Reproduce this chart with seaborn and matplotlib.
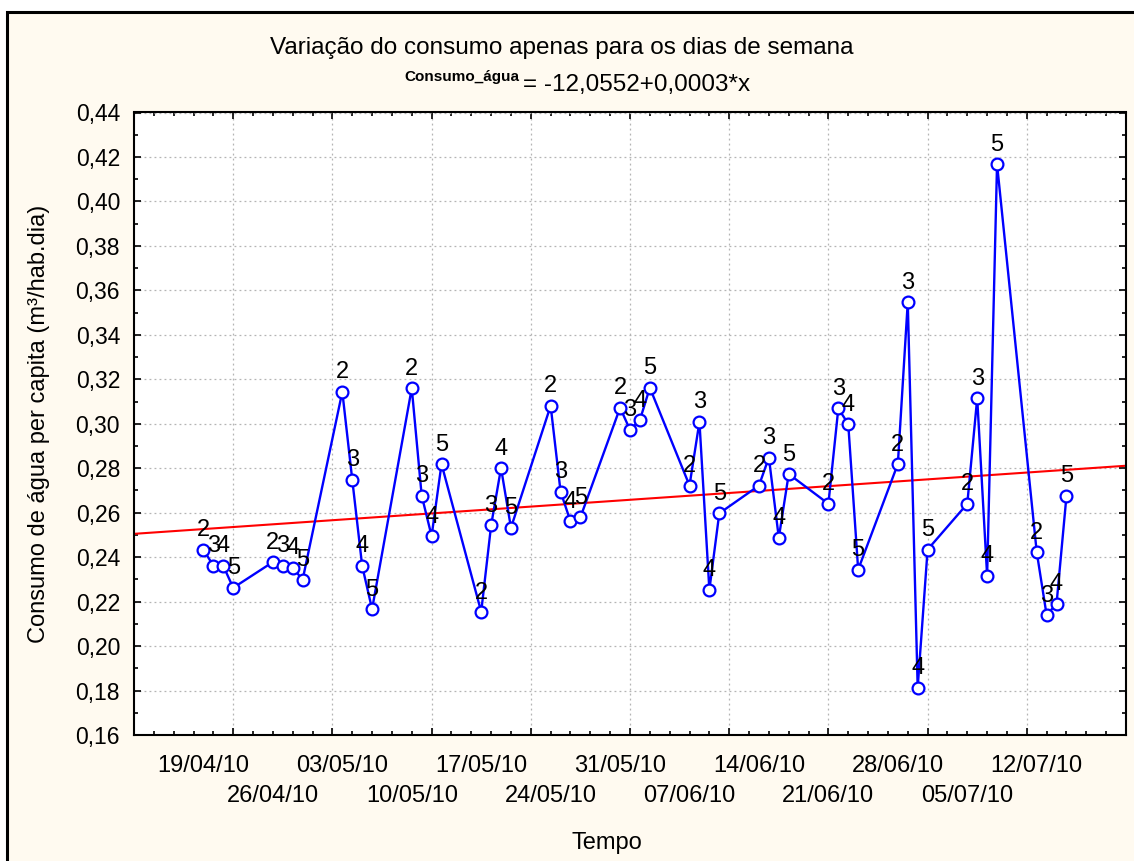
import numpy as np
import pandas as pd
import matplotlib
matplotlib.use("Agg")
import matplotlib.pyplot as plt
import matplotlib.dates as mdates
from matplotlib.ticker import FixedLocator, MultipleLocator, FuncFormatter
from matplotlib.patches import Rectangle
import seaborn as sns

# Mondays of each week (dias de semana: 2=seg, 3=ter, 4=qua, 5=qui)
week_starts = ["2010-04-19", "2010-04-26", "2010-05-03", "2010-05-10", "2010-05-17",
               "2010-05-24", "2010-05-31", "2010-06-07", "2010-06-14", "2010-06-21",
               "2010-06-28", "2010-07-05", "2010-07-12"]
weekday_codes = [2, 3, 4, 5]

# consumo per capita (m3/hab.dia), 4 values per week
consumo = [
    0.2434, 0.2361, 0.2361, 0.2262,
    0.2378, 0.2361, 0.2352, 0.2299,
    0.3144, 0.2749, 0.2361, 0.2166,
    0.3160, 0.2677, 0.2495, 0.2819,
    0.2154, 0.2543, 0.2801, 0.2532,
    0.3081, 0.2695, 0.2561, 0.2579,
    0.3072, 0.2973, 0.3017, 0.3162,
    0.2722, 0.3009, 0.2253, 0.2597,
    0.2722, 0.2848, 0.2487, 0.2774,
    0.2640, 0.3069, 0.2999, 0.2344,
    0.2819, 0.3547, 0.1813, 0.2434,
    0.2640, 0.3115, 0.2316, 0.4168,
    0.2423, 0.2139, 0.2191, 0.2676,
]

date_labels = [pd.Timestamp(d).strftime("%d/%m/%y") for d in week_starts]

dates = [pd.Timestamp(w) + pd.Timedelta(days=c - 2) for w in week_starts for c in weekday_codes]
codes = [c for w in week_starts for c in weekday_codes]
df = pd.DataFrame({"data": dates, "consumo": consumo, "dia": codes})
df["x"] = mdates.date2num(df["data"])

sns.set_style("ticks")
plt.rcParams["font.family"] = ["Liberation Sans", "DejaVu Sans"]
plt.rcParams.update({"text.color": "black", "axes.labelcolor": "black",
                     "xtick.color": "black", "ytick.color": "black"})

W, H = 1134, 861
fig = plt.figure(figsize=(W / 100, H / 100), dpi=100, facecolor="white")
fig.add_artist(Rectangle((7 / W, -0.1), 1.2, 1 - 11.5 / H + 0.1, transform=fig.transFigure,
                         facecolor="floralwhite", edgecolor="black", linewidth=2.2, zorder=-10))

ax = fig.add_axes([134 / W, 1 - 735 / H, (1126 - 134) / W, (735 - 112.5) / H])
ax.set_facecolor("white")

x0 = mdates.date2num(pd.Timestamp("2010-04-12"))
x1 = mdates.date2num(pd.Timestamp("2010-07-21"))
ax.set_xlim(x0, x1)
ax.set_ylim(0.16, 0.44)

sns.regplot(data=df, x="x", y="consumo", scatter=False, ci=None, truncate=False,
            color="red", line_kws={"linewidth": 1.5, "zorder": 2}, ax=ax)
sns.lineplot(data=df, x="x", y="consumo", color="blue", linewidth=1.7, marker="o",
             markersize=8.5, markerfacecolor="white", markeredgecolor="blue",
             markeredgewidth=1.6, ax=ax, zorder=3)

for xv, yv, d in zip(df["x"], df["consumo"], df["dia"]):
    ax.annotate(str(d), (xv, yv), xytext=(0, 6), textcoords="offset points",
                ha="center", va="bottom", fontsize=17, zorder=4)

# ticks like the original: major every 10 days, minor every 2 days
major = mdates.date2num(pd.date_range("2010-04-22", "2010-07-21", freq="10D"))
minor = mdates.date2num(pd.date_range("2010-04-12", "2010-07-21", freq="2D"))
ax.xaxis.set_major_locator(FixedLocator(major))
ax.xaxis.set_minor_locator(FixedLocator(minor))
ax.yaxis.set_major_locator(MultipleLocator(0.02))
ax.yaxis.set_minor_locator(MultipleLocator(0.01))
ax.yaxis.set_major_formatter(FuncFormatter(lambda v, p: f"{v:.2f}".replace(".", ",")))
ax.tick_params(which="both", direction="in", top=True, right=True, labelbottom=False,
               color="black", width=1.2)
ax.tick_params(which="major", length=5)
ax.tick_params(which="minor", length=3)
ax.tick_params(axis="y", labelsize=16.5, pad=10)
ax.grid(True, which="major", linestyle=(0, (1.5, 2.5)), color="#b4b4b4", linewidth=0.9)
for s in ax.spines.values():
    s.set_linewidth(1.5)
    s.set_color("black")

# weekly date labels in two staggered rows
mondays = mdates.date2num(pd.to_datetime(week_starts))
for row, pad in [(0, 14.5), (1, 36)]:
    sec = ax.secondary_xaxis("bottom")
    sec.set_xticks(mondays[row::2], labels=date_labels[row::2])
    sec.tick_params(length=0, labelsize=17, pad=pad)
    sec.spines["bottom"].set_visible(False)

ax.set_xlabel("Tempo", fontsize=17)
ax.xaxis.set_label_coords((607 - 134) / (1126 - 134), -(832 - 735) / (735 - 112.5))
ax.set_ylabel("Consumo de água per capita (m³/hab.dia)", fontsize=17)
ax.yaxis.set_label_coords(-(134 - 50) / (1126 - 134), 0.5)

fig.text(562 / W, 1 - 48 / H, "Variação do consumo apenas para os dias de semana",
         ha="center", va="center", fontsize=17.5)
fig.text(523 / W, 1 - 91.5 / H, "= -12,0552+0,0003*x", ha="left", va="baseline", fontsize=17.5)
fig.text(519 / W, 1 - 80.5 / H, "Consumo_água", ha="right", va="baseline",
         fontsize=11, fontweight="bold")

fig.savefig("out.png", dpi=100, facecolor=fig.get_facecolor())
